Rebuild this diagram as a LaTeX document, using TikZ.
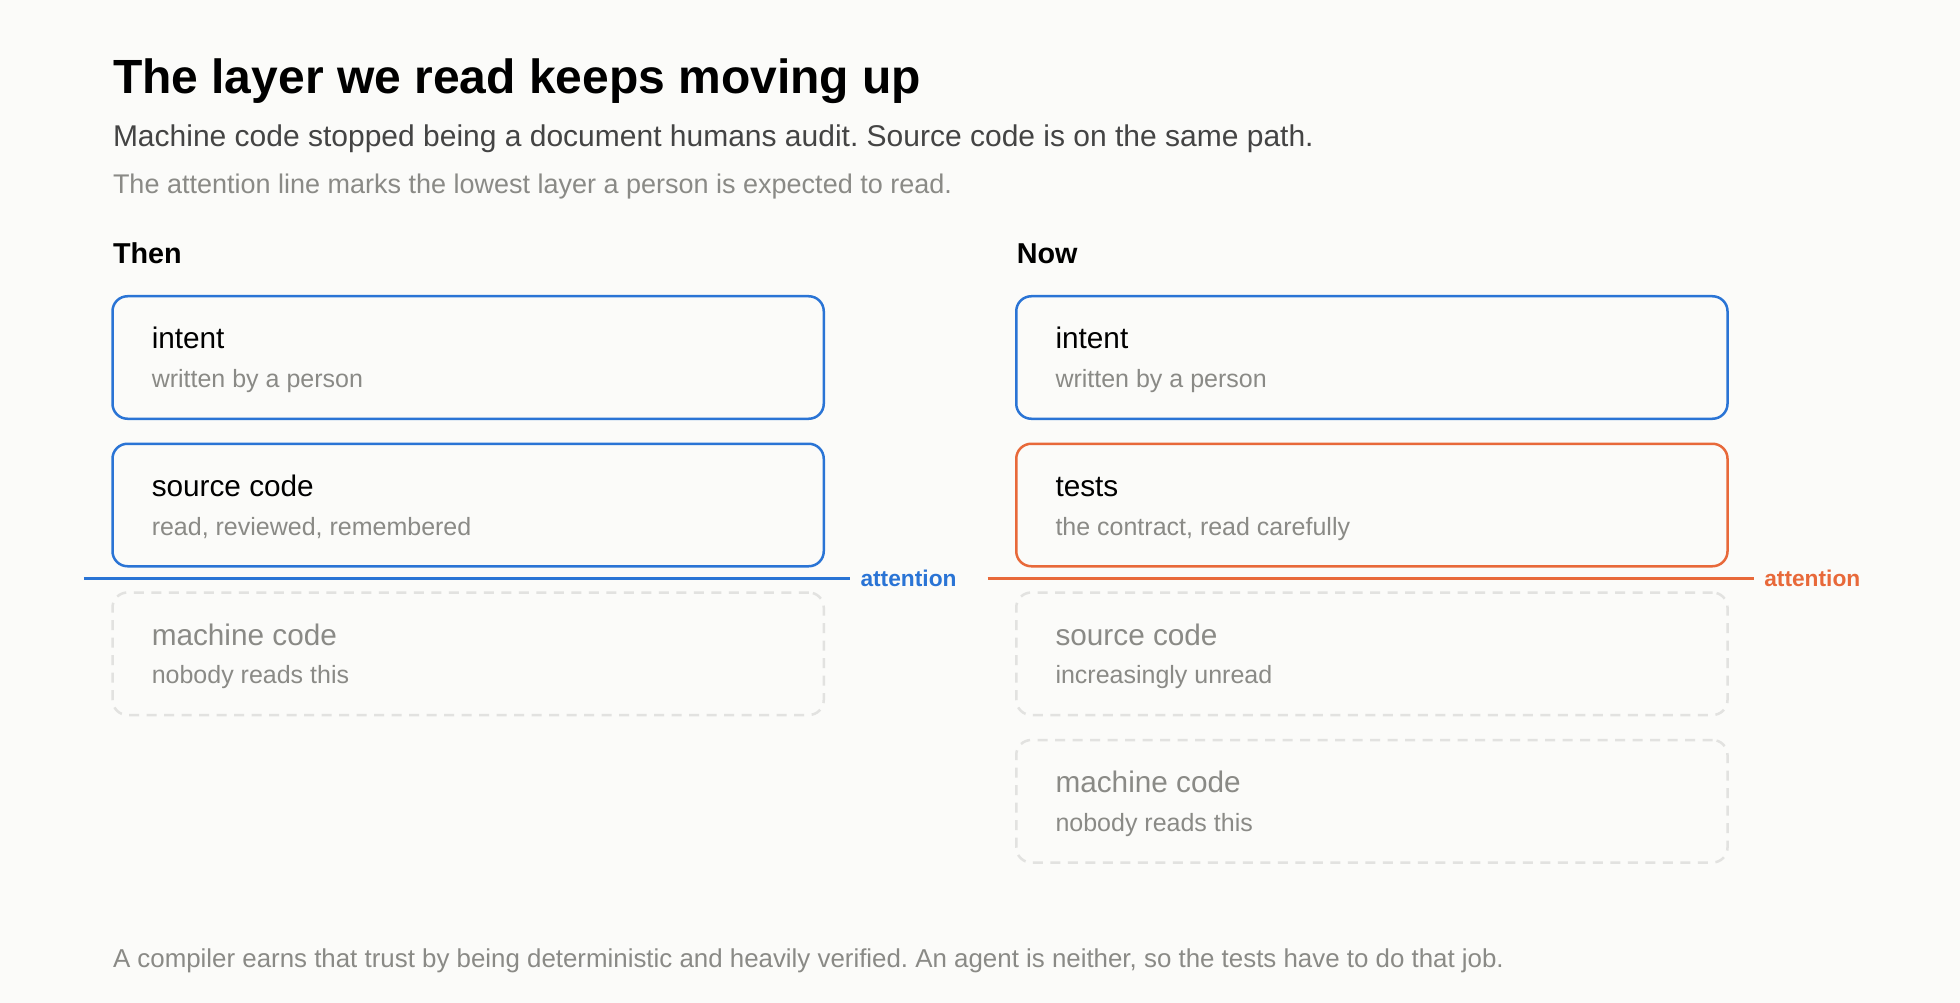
\documentclass[tikz,border=0pt]{standalone}
\usepackage{fontspec}
\setmainfont{Liberation Sans}
\usepackage{xcolor}
\usetikzlibrary{positioning}
\frenchspacing

\definecolor{pageBg}{HTML}{FBFBF9}
\definecolor{inkBlue}{HTML}{2A74D5}
\definecolor{inkOrange}{HTML}{E8693A}
\definecolor{inkGray}{HTML}{8A8A86}
\definecolor{inkDark}{HTML}{444444}
\definecolor{dashGray}{HTML}{E2E2E0}

\tikzset{
  layer/.style={draw, line width=1pt, rounded corners=6pt, anchor=north west,
    minimum width=284.5pt, minimum height=49pt, inner sep=0pt},
  readBlue/.style={layer, draw=inkBlue},
  readOrange/.style={layer, draw=inkOrange},
  unread/.style={layer, draw=dashGray, dashed, dash pattern=on 4pt off 3pt},
  layerName/.style={anchor=base west, inner sep=0pt, font=\fontsize{11.9}{14}\selectfont},
  layerNote/.style={anchor=base west, inner sep=0pt, text=inkGray, font=\fontsize{10}{12}\selectfont},
  attn/.style={anchor=west, inner sep=0pt, font=\bfseries\fontsize{9.1}{11}\selectfont}
}

% box with a name line and a note line
\newcommand{\layerbox}[6]{%
  \node[#4] (#1) at (#2,#3) {};
  \node[layerName, #5] at ([xshift=16pt, yshift=-21.5pt] #1.north west) {#6};
}
\newcommand{\layernote}[2]{%
  \node[layerNote] at ([xshift=16pt, yshift=-37pt] #1.north west) {#2};
}

\begin{document}
\begin{tikzpicture}[x=0.5pt, y=-0.5pt]
    % page
    \fill[pageBg] (0,0) rectangle (1568,802);
    \useasboundingbox (0,0) rectangle (1568,802);

    % heading
    \node[anchor=base west, inner sep=0pt, font=\bfseries\fontsize{19.2}{23}\selectfont] (title) at (90,75) {The layer we read keeps moving up};
    \node[anchor=base west, inner sep=0pt, text=inkDark, font=\fontsize{12}{14}\selectfont] (sub) at (90,117) {Machine code stopped being a document humans audit. Source code is on the same path.};
    \node[anchor=base west, inner sep=0pt, text=inkGray, font=\fontsize{10.8}{13}\selectfont] (hint) at (90,155) {The attention line marks the lowest layer a person is expected to read.};

    % Then column
    \node[anchor=base west, inner sep=0pt, font=\bfseries\fontsize{11.5}{14}\selectfont] (then) at (90,211) {Then};
    \layerbox{thenIntent}{89}{236}{readBlue}{}{intent}
    \layernote{thenIntent}{written by a person}
    \layerbox{thenSource}{89}{354}{readBlue}{}{source code}
    \layernote{thenSource}{read, reviewed, remembered}
    \layerbox{thenMachine}{89}{473}{unread}{text=inkGray}{machine code}
    \layernote{thenMachine}{nobody reads this}

    \coordinate (thenLine) at (67,463);
    \node[attn, text=inkBlue] (thenAttn) at (688,463) {attention};
    \draw[inkBlue, line width=1.2pt] (thenLine) -- ([xshift=-4pt] thenAttn.west);

    % Now column
    \node[anchor=base west, inner sep=0pt, font=\bfseries\fontsize{11.5}{14}\selectfont] (now) at (813,211) {Now};
    \layerbox{nowIntent}{812}{236}{readBlue}{}{intent}
    \layernote{nowIntent}{written by a person}
    \layerbox{nowTests}{812}{354}{readOrange}{}{tests}
    \layernote{nowTests}{the contract, read carefully}
    \layerbox{nowSource}{812}{473}{unread}{text=inkGray}{source code}
    \layernote{nowSource}{increasingly unread}
    \layerbox{nowMachine}{812}{591}{unread}{text=inkGray}{machine code}
    \layernote{nowMachine}{nobody reads this}

    \coordinate (nowLine) at (790,463);
    \node[attn, text=inkOrange] (nowAttn) at (1411,463) {attention};
    \draw[inkOrange, line width=1.2pt] (nowLine) -- ([xshift=-4pt] nowAttn.west);

    % footer
    \node[anchor=base west, inner sep=0pt, text=inkGray, font=\fontsize{10.35}{12}\selectfont] (foot) at (90,774) {A compiler earns that trust by being deterministic and heavily verified. An agent is neither, so the tests have to do that job.};
\end{tikzpicture}
\end{document}
